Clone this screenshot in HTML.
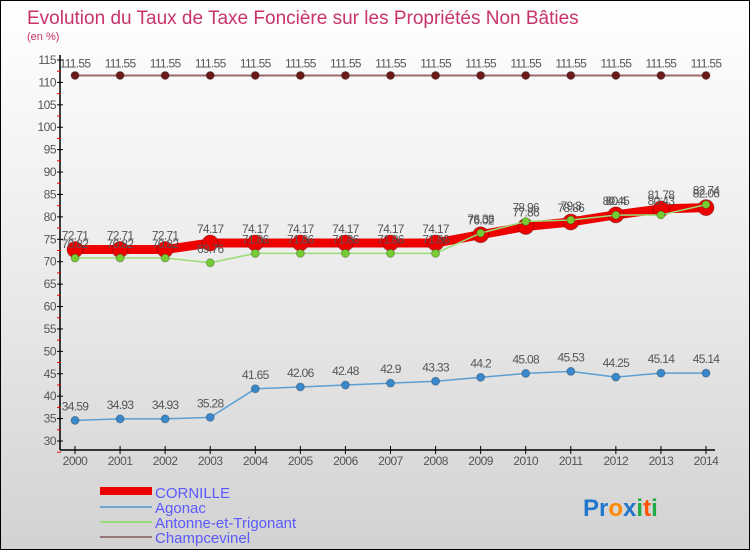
<!DOCTYPE html>
<html><head><meta charset="utf-8"><style>
html,body{margin:0;padding:0}
body{width:750px;height:550px;overflow:hidden;font-family:"Liberation Sans",sans-serif}
</style></head><body>
<svg id="c" width="750" height="550" xmlns="http://www.w3.org/2000/svg">
<defs>
<linearGradient id="bg" x1="0" y1="0" x2="0" y2="1">
<stop offset="0" stop-color="#ffffff"/><stop offset="0.5" stop-color="#ebebeb"/><stop offset="1" stop-color="#d2d2d2"/>
</linearGradient>
</defs>
<rect x="0.5" y="0.5" width="749" height="549" fill="url(#bg)" stroke="#000"/>
<text x="27" y="24" font-size="19" fill="#c8336b">Evolution du Taux de Taxe Foncière sur les Propriétés Non Bâties</text>
<text x="27" y="40" font-size="11" fill="#c8336b">(en %)</text>
<g id="axes"></g>
<g id="series"></g>
<g>
<rect x="100" y="487" width="52" height="8" fill="#ee0000"/>
<text x="155" y="498" font-size="15" fill="#5a5aff">CORNILLE</text>
<line x1="100" y1="507" x2="152" y2="507" stroke="#6fa8d0" stroke-width="2"/>
<text x="155" y="513" font-size="15" fill="#5a5aff">Agonac</text>
<line x1="100" y1="522" x2="152" y2="522" stroke="#99dd77" stroke-width="2"/>
<text x="155" y="528" font-size="15" fill="#5a5aff">Antonne-et-Trigonant</text>
<line x1="100" y1="537" x2="152" y2="537" stroke="#997777" stroke-width="2"/>
<text x="155" y="543" font-size="15" fill="#5a5aff">Champcevinel</text>
</g>
<text x="583" y="516" font-size="24" font-weight="bold"><tspan fill="#2277cc">Pr</tspan><tspan fill="#ff8800">o</tspan><tspan fill="#2277cc">x</tspan><tspan fill="#22aa44">i</tspan><tspan fill="#ff5500">t</tspan><tspan fill="#22aa44">i</tspan></text>
</svg>
<script>
const years=["2000","2001","2002","2003","2004","2005","2006","2007","2008","2009","2010","2011","2012","2013","2014"];
const cornille=[72.71,72.71,72.71,74.17,74.17,74.17,74.17,74.17,74.17,76.02,77.86,78.86,80.45,81.78,82.06];
const agonac=[34.59,34.93,34.93,35.28,41.65,42.06,42.48,42.9,43.33,44.2,45.08,45.53,44.25,45.14,45.14];
const antonne=[70.82,70.82,70.82,69.76,71.86,71.86,71.86,71.86,71.86,76.38,78.96,79.3,80.4,80.43,82.74];
const champ=[111.55,111.55,111.55,111.55,111.55,111.55,111.55,111.55,111.55,111.55,111.55,111.55,111.55,111.55,111.55];
const yTicks=[30,35,40,45,50,55,60,65,70,75,80,85,90,95,100,105,110,115];
const NS="http://www.w3.org/2000/svg";
const yMin=30,yMax=115,y0=441,y1=60,xA=75,xB=706;
const X=i=>xA+i*(xB-xA)/(years.length-1);
const Y=v=>y0-(v-yMin)*(y0-y1)/(yMax-yMin);
function mk(t,a,p){const e=document.createElementNS(NS,t);for(const k in a)e.setAttribute(k,a[k]);p.appendChild(e);return e;}
const ax=document.getElementById('axes'),sg=document.getElementById('series');
const yl=mk('line',{x1:60,y1:55,x2:60,y2:450,stroke:'#000','stroke-width':1.5},ax);


const xl=mk('line',{x1:60,y1:450,x2:715,y2:450,stroke:'#000','stroke-width':1.5},ax);


yTicks.forEach(v=>{
  const y=Y(v);
  mk('line',{x1:57,y1:y,x2:63,y2:y,stroke:'#000'},ax);
  mk('line',{x1:57,y1:y+11.2,x2:61,y2:y+11.2,stroke:'#e00'},ax);
  const t=mk('text',{x:56,y:y+4,'font-size':12,fill:'#555','text-anchor':'end','letter-spacing':'-0.5'},ax);
  t.textContent=v;
  
  
});
years.forEach((yr,i)=>{
  mk('line',{x1:X(i),y1:446,x2:X(i),y2:454,stroke:'#000'},ax);
  const t=mk('text',{x:X(i),y:465,'font-size':12,fill:'#555','text-anchor':'middle','letter-spacing':'-0.5'},ax);
  t.textContent=yr;
  
  
});
function series(arr,name,color,w,r,fill,labelOff){
  const g=mk('g',{},sg);
  
  
  const pts=arr.map((v,i)=>X(i)+','+Y(v)).join(' ');
  mk('polyline',{points:pts,fill:'none',stroke:color,'stroke-width':w,'stroke-linejoin':'round'},g);
  arr.forEach((v,i)=>{
    const c=mk('circle',{cx:X(i),cy:Y(v),r:r,fill:fill,stroke:'rgba(0,0,0,0.25)'},g);
    
    
    const t=mk('text',{x:X(i),y:Y(v)+labelOff,'font-size':12,fill:'#555','text-anchor':'middle','letter-spacing':'-0.7'},g);
    t.textContent=String(v);
    
    
  });
}
series(champ,'champcevinel','#9c6b6b',2,4,'#6b1a1a',-8);
series(agonac,'agonac','#5a9fd4',1.5,4,'#3a88cc',-10);
series(cornille,'cornille','#ee0000',9,8,'#ee0000',-10);
series(antonne,'antonne','#99dd77',1.5,4,'#77cc33',-10);
</script>
</body></html>
